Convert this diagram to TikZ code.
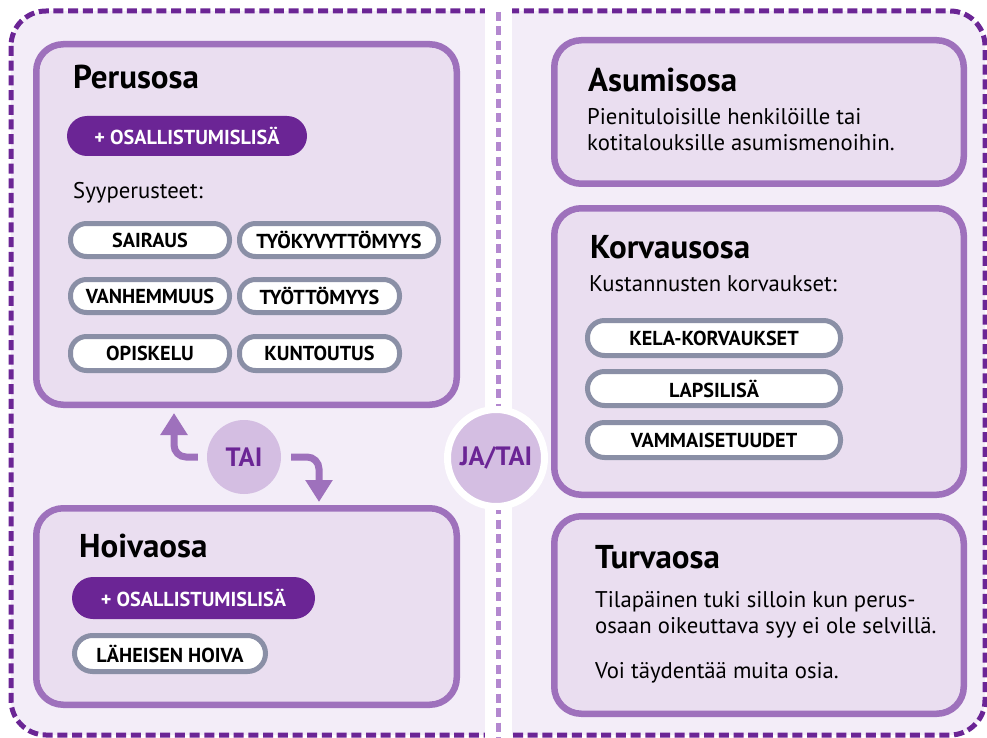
\documentclass[tikz,border=0pt]{standalone}
\usepackage{fontspec}
\setmainfont{PT Sans}
\usetikzlibrary{arrows.meta}
\definecolor{bgl}{HTML}{F3EDF8}
\definecolor{boxfill}{HTML}{EADEF0}
\definecolor{boxline}{HTML}{9E71BC}
\definecolor{dpurple}{HTML}{6B2595}
\definecolor{pillgray}{HTML}{8A8FA6}
\definecolor{circfill}{HTML}{D4BEE2}
\definecolor{middash}{HTML}{B388CF}
\newcommand\ttlfnt{\fontsize{33}{38}\selectfont\bfseries}
\newcommand\bodyfnt{\fontsize{22.7}{26}\selectfont}
\newcommand\pillfnt{\fontsize{20.2}{22}\selectfont\bfseries}
\newcommand\circfnt{\fontsize{26.5}{30}\selectfont\bfseries}
\tikzset{
  partbox/.style={draw=boxline, fill=boxfill, line width=6.5pt, rounded corners=27pt, inner sep=0pt},
  pill/.style={draw=pillgray, fill=white, line width=5pt, rounded corners=16pt, inner sep=0pt, font=\pillfnt, text=black},
  ppill/.style={fill=dpurple, rounded corners=20pt, inner sep=0pt, font=\pillfnt, text=white},
  ttl/.style={anchor=base west, inner sep=0pt, font=\ttlfnt, text=black},
  body/.style={anchor=base west, inner sep=0pt, font=\bodyfnt, text=black, align=left},
  orcirc/.style={circle, fill=circfill, inner sep=0pt, text=dpurple, font=\circfnt},
  arr/.style={draw=boxline, line width=7pt, rounded corners=12pt, -{Triangle[length=22pt,width=26pt]}}
}
\begin{document}
\begin{tikzpicture}[x=1pt,y=-1pt]
\useasboundingbox (0,0) rectangle (987,738);
% background and outer dashed frame
\fill[bgl, rounded corners=35pt] (11,11) rectangle (985,735);
\draw[dpurple, line width=5pt, dash pattern=on 10pt off 4.7pt, rounded corners=35pt] (11,11) rectangle (985,735);
% white middle strip with dashed line
\fill[white] (485,0) rectangle (512,738);
\draw[middash, line width=5pt, dash pattern=on 9pt off 5.5pt] (498.5,12) -- (498.5,738);

% Perusosa
\node[partbox, minimum width=420.5pt, minimum height=360.5pt] (perus) at (246.5,224.5) {};
\node[ttl] (perusttl) at (73,89) {Perusosa};
\node[ppill, minimum width=240pt, minimum height=40pt] (perusosal) at (187,136) {+ OSALLISTUMISLISÄ};
\node[body] (syy) at (73,199) {Syyperusteet:};
\node[pill, minimum width=159pt, minimum height=33pt] (sairaus) at (150,240) {SAIRAUS};
\node[pill, minimum width=199pt, minimum height=33pt] (tyokyv) at (339,240) {TYÖKYVYTTÖMYYS};
\node[pill, minimum width=159pt, minimum height=33pt] (vanh) at (150,296) {VANHEMMUUS};
\node[pill, minimum width=160pt, minimum height=33pt] (tyott) at (319.5,296) {TYÖTTÖMYYS};
\node[pill, minimum width=159pt, minimum height=34pt] (opisk) at (150,353.5) {OPISKELU};
\node[pill, minimum width=160pt, minimum height=34pt] (kunt) at (319.5,353.5) {KUNTOUTUS};

% Hoivaosa
\node[partbox, minimum width=420.5pt, minimum height=196.5pt] (hoiva) at (246.5,606.5) {};
\node[ttl] (hoivattl) at (79,557) {Hoivaosa};
\node[ppill, minimum width=243pt, minimum height=42pt, rounded corners=21pt] (hoivaosal) at (193.5,598) {+ OSALLISTUMISLISÄ};
\node[pill, minimum width=191pt, minimum height=36pt, rounded corners=18pt] (laheisen) at (170,653.5) {LÄHEISEN HOIVA};

% TAI and arrows
\node[orcirc, minimum size=74pt] (tai) at (244,457) {TAI};
\coordinate (tipup) at (174,413);
\coordinate (tipdown) at (319,502);
\draw[arr] ([xshift=-9pt]tai.west) -| (tipup);
\draw[arr] ([xshift=10pt]tai.east) -| (tipdown);

% JA/TAI
\node[orcirc, draw=white, line width=7pt, minimum size=97pt] (jatai) at (496,458) {JA/TAI};

% Asumisosa
\node[partbox, minimum width=409.5pt, minimum height=143.5pt] (asum) at (759,112) {};
\node[ttl] (asumttl) at (588,92) {Asumisosa};
\node[body] (asumtxt) at (587,151) {Pienituloisille henkilöille tai\\kotitalouksille asumismenoihin.};

% Korvausosa
\node[partbox, minimum width=409.5pt, minimum height=286.5pt] (korv) at (759,351.5) {};
\node[ttl] (korvttl) at (590,258) {Korvausosa};
\node[body] (korvtxt) at (589,291) {Kustannusten korvaukset:};
\node[pill, minimum width=253pt, minimum height=35pt, rounded corners=17pt] (kela) at (714,338) {KELA-KORVAUKSET};
\node[pill, minimum width=253pt, minimum height=34pt, rounded corners=17pt] (lapsi) at (714,388.5) {LAPSILISÄ};
\node[pill, minimum width=253pt, minimum height=35pt, rounded corners=17pt] (vamm) at (714,440) {VAMMAISETUUDET};

% Turvaosa
\node[partbox, minimum width=409.5pt, minimum height=197.5pt] (turva) at (759,615) {};
\node[ttl] (turvattl) at (595,568) {Turvaosa};
\node[body] (turvatxt) at (595,633) {Tilapäinen tuki silloin kun perus-\\osaan oikeuttava syy ei ole selvillä.};
\node[body] (turvatxt2) at (595,678) {Voi täydentää muita osia.};
\end{tikzpicture}
\end{document}
